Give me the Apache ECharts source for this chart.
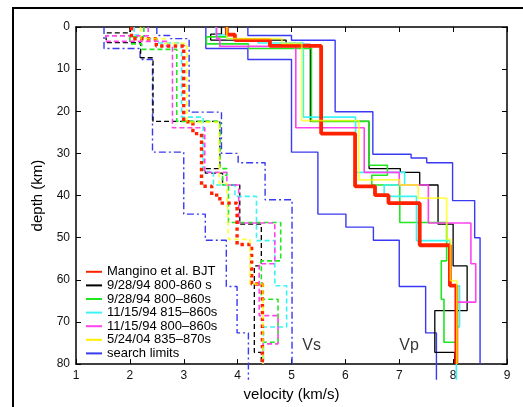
<!DOCTYPE html>
<html><head><meta charset="utf-8">
<script src="https://cdn.jsdelivr.net/npm/echarts@6/dist/echarts.min.js"></script>
<style>html,body{margin:0;padding:0;background:#fff}#c{width:523px;height:407px}</style>
</head><body><div id="c"></div>
<script>
// ---- categories / ticks ----
const legendNames = ['Mangino et al. BJT','9/28/94 800-860 s','9/28/94 800\u2013860s','11/15/94 815\u2013860s','11/15/94 800\u2013860s','5/24/04 835\u2013870s','search limits'];
const legendColors = ['#ff2200','#000000','#22e622','#3cf4f4','#ff44ee','#ffee00','#3a3af2'];
const xTicks = [1,2,3,4,5,6,7,8,9];
const yTicks = [0,10,20,30,40,50,60,70,80];
const annText = ['Vs','Vp'];
const annVel = [5.2, 7.0];
const annDepth = [75.6, 75.6];

// ---- profiles: layer-top depths (last = bottom) and velocities ----
const redVpDepth = [0, 1.8, 3.1, 4.5, 25.3, 37.8, 39.9, 41.8, 51.8, 61.4, 80];
const redVp      = [3.80, 3.95, 4.60, 5.55, 6.18, 6.55, 6.80, 7.38, 7.94, 8.06];
const redVsDepth = [0, 2.8, 4.5, 22.5, 25.3, 37.8, 39.9, 41.8, 51.6, 61.0, 80];
const redVs      = [2.03, 2.49, 3.00, 3.17, 3.33, 3.52, 3.67, 3.99, 4.26, 4.46];

const blackVpDepth = [0, 1.7, 3.1, 4.1, 22.4, 33.6, 34.5, 37.5, 46.8, 56.7, 67.3, 77.2, 80];
const blackVp      = [3.70, 3.50, 4.90, 5.35, 6.44, 7.02, 7.38, 7.72, 8.00, 8.26, 7.66, 8.03];
const blackVsDepth = [0, 1.4, 3.7, 7.3, 22.4, 33.6, 34.7, 37.5, 46.8, 56.7, 77.2, 80];
const blackVs      = [2.00, 1.56, 2.20, 2.43, 3.67, 3.40, 3.72, 4.04, 4.44, 4.31, 4.44];

const greenVpDepth = [0, 2.35, 4.0, 5.1, 22.4, 32.8, 35.2, 37.5, 46.4, 55.5, 64.6, 74.8, 80];
const greenVp      = [3.80, 3.42, 4.20, 5.37, 6.44, 6.78, 6.49, 7.01, 7.88, 7.78, 7.83, 8.07];
const greenVsDepth = [0, 2.35, 4.0, 5.3, 22.4, 33.6, 35.2, 37.5, 46.4, 55.5, 64.6, 74.8, 80];
const greenVs      = [2.26, 2.00, 2.22, 2.87, 3.67, 3.80, 3.72, 3.83, 4.80, 4.44, 4.75, 4.47];

const cyanVpDepth = [0, 1.9, 2.8, 3.8, 21.4, 34.5, 37.5, 40.2, 50.7, 61.4, 71.2, 83.7];
const cyanVp      = [3.60, 3.80, 4.38, 5.22, 6.19, 7.10, 6.72, 7.32, 7.94, 8.12, 8.06];
const cyanVsDepth = [0, 1.9, 2.8, 3.8, 21.4, 34.3, 37.5, 40.2, 50.7, 61.4, 71.2, 80];
const cyanVs      = [2.08, 2.20, 2.50, 2.96, 3.36, 3.55, 3.95, 4.35, 4.69, 4.91, 4.48];

const magentaVpDepth = [0, 2.75, 4.6, 23.9, 34.5, 37.5, 46.5, 56.2, 65.3, 80];
const magentaVp      = [3.61, 3.67, 5.08, 6.35, 7.00, 7.54, 8.33, 8.42, 8.06];
const magentaVsDepth = [0, 2.1, 3.4, 4.6, 23.9, 34.5, 37.5, 46.5, 56.2, 68.5, 75.2, 80];
const magentaVs      = [2.34, 1.56, 2.68, 2.79, 3.39, 3.80, 4.02, 4.69, 4.40, 4.75, 4.47];

const yellowVpDepth = [0, 2.75, 3.9, 22.2, 36.3, 37.5, 40.6, 50.4, 60.2, 80];
const yellowVp      = [3.80, 4.82, 5.19, 6.25, 7.01, 7.35, 7.88, 7.95, 8.07];
const yellowVsDepth = [0, 2.75, 3.9, 22.6, 37.1, 39.0, 50.4, 61.0, 80];
const yellowVs      = [2.20, 2.65, 3.06, 3.66, 3.80, 3.83, 4.23, 4.47];

const limVpLoDepth = [0, 5.1, 7.7, 29.7, 44.4, 47.5, 50.6, 61.6, 72.6, 83.7];
const limVpLo      = [3.41, 4.19, 5.00, 5.49, 6.01, 6.52, 7.00, 7.49, 7.69];
const limVpHiDepth = [0, 2.0, 3.15, 20.1, 30.2, 31.1, 32.2, 41.2, 50.0, 80];
const limVpHi      = [4.19, 5.00, 5.81, 6.51, 7.22, 7.51, 7.99, 8.40, 8.50];
const limVsLoDepth = [0, 5.1, 7.7, 29.7, 44.4, 50.6, 61.6, 72.6, 83.7];
const limVsLo      = [1.52, 2.19, 2.42, 3.00, 3.40, 3.79, 3.99, 4.20];
const limVsHiDepth = [0, 2.0, 2.75, 20.2, 30.0, 32.2, 41.0, 80];
const limVsHi      = [2.50, 2.74, 3.10, 3.70, 4.01, 4.51, 5.01];

function steps(depth, vel) {
  const pts = [];
  for (let i = 0; i < vel.length; i++) {
    pts.push([vel[i], depth[i]]);
    pts.push([vel[i], depth[i + 1]]);
  }
  return pts;
}

const FONT = 'Liberation Sans, Arial, Helvetica, sans-serif';
const BLUE = '#3a3af2';
const defs = [
  [6, BLUE, limVpLoDepth, limVpLo, 1.4, 'solid', 1],
  [6, BLUE, limVpHiDepth, limVpHi, 1.4, 'solid', 1],
  [6, BLUE, limVsLoDepth, limVsLo, 1.4, [7, 3, 2, 3], 1],
  [6, BLUE, limVsHiDepth, limVsHi, 1.4, [7, 3, 2, 3], 1],
  [1, '#000000', blackVpDepth, blackVp, 1.3, 'solid', 1],
  [1, '#000000', blackVsDepth, blackVs, 1.3, [5, 3], 1],
  [2, '#22e622', greenVpDepth, greenVp, 1.6, 'solid', 1],
  [2, '#22e622', greenVsDepth, greenVs, 1.6, [5, 3], 1],
  [3, '#3cf4f4', cyanVpDepth, cyanVp, 1.6, 'solid', 1],
  [3, '#3cf4f4', cyanVsDepth, cyanVs, 1.6, [5, 3], 1],
  [4, '#ff44ee', magentaVpDepth, magentaVp, 1.6, 'solid', 1],
  [4, '#ff44ee', magentaVsDepth, magentaVs, 1.6, [5, 3], 1],
  [0, '#ff2200', redVpDepth, redVp, 3.8, 'solid', 1],
  [0, '#ff2200', redVsDepth, redVs, 3.4, [3.4, 3.4], 1],
  [5, '#ffff00', yellowVpDepth, yellowVp, 1.8, 'solid', 0.7],
  [5, '#ffff00', yellowVsDepth, yellowVs, 1.8, [5, 3], 0.7]
];

// empty series first, so each legend entry takes a thin, uniform key
const series = legendNames.map((n, i) => ({
  type: 'line', name: n, color: legendColors[i], data: [], symbol: 'none',
  lineStyle: { color: legendColors[i], width: 1.5 }, silent: true, animation: false
}));
defs.forEach(d => series.push({
  type: 'line', name: legendNames[d[0]], color: d[1],
  data: steps(d[2], d[3]), showSymbol: false, symbol: 'none',
  clip: false, silent: true, animation: false,
  lineStyle: { color: d[1], width: d[4], type: d[5], opacity: d[6] }
}));
series.push({
  type: 'scatter', symbolSize: 0, silent: true, animation: false,
  data: annText.map((t, i) => ({ name: t, value: [annVel[i], annDepth[i]] })),
  label: { show: true, position: 'right', distance: 0, formatter: p => p.name,
           fontSize: 16, color: '#000', fontFamily: FONT }
});

const axisLine = { show: true, onZero: false, lineStyle: { color: '#000', width: 1.5 } };
const tick = { show: true, inside: true, length: 5, lineStyle: { color: '#000', width: 1 } };
const lab = { fontSize: 12, color: '#111', fontFamily: FONT, margin: 6 };
const nameStyle = { fontSize: 15, color: '#000', fontFamily: FONT };

const chart = echarts.init(document.getElementById('c'), null, { renderer: 'canvas' });
chart.setOption({
  animation: false,
  backgroundColor: '#fff',
  grid: { left: 76, right: 16, top: 27, bottom: 40 },
  xAxis: [
    { type: 'value', position: 'bottom', min: xTicks[0], max: xTicks[xTicks.length - 1], interval: 1,
      axisLine, axisTick: tick, axisLabel: lab, splitLine: { show: false },
      name: 'velocity (km/s)', nameLocation: 'middle', nameGap: 21, nameTextStyle: nameStyle },
    { type: 'value', position: 'top', min: xTicks[0], max: xTicks[xTicks.length - 1], interval: 1,
      axisLine, axisTick: tick, axisLabel: { show: false }, splitLine: { show: false } }
  ],
  yAxis: [
    { type: 'value', position: 'left', inverse: true, min: yTicks[0], max: yTicks[yTicks.length - 1], interval: 10,
      axisLine, axisTick: tick, axisLabel: lab, splitLine: { show: false },
      name: 'depth (km)', nameLocation: 'middle', nameGap: 27, nameRotate: 90, nameTextStyle: nameStyle },
    { type: 'value', position: 'right', inverse: true, min: yTicks[0], max: yTicks[yTicks.length - 1], interval: 10,
      axisLine, axisTick: tick, axisLabel: { show: false }, splitLine: { show: false } }
  ],
  legend: {
    data: legendNames, orient: 'vertical', left: 86, top: 265, padding: 0,
    icon: 'rect', itemWidth: 16, itemHeight: 2, itemGap: 0, selectedMode: false,
    itemStyle: { borderWidth: 0 },
    textStyle: { fontSize: 13, lineHeight: 13.6, color: '#000', fontFamily: FONT }
  },
  graphic: [
    { type: 'rect', shape: { x: 13, y: 8, width: 620, height: 520 },
      style: { fill: 'none', stroke: '#000', lineWidth: 2 }, silent: true, z: 100 }
  ],
  series
});
</script></body></html>
